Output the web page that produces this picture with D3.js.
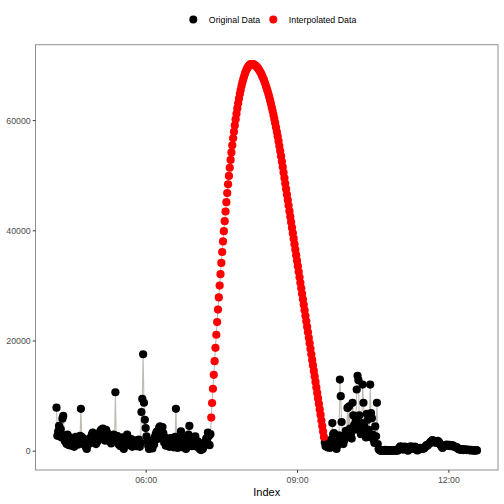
<!DOCTYPE html>
<html>
<head>
<meta charset="utf-8">
<script src="https://cdn.jsdelivr.net/npm/d3@7"></script>
<style>
  html, body { margin: 0; padding: 0; background: #fff; }
  svg { display: block; font-family: "Liberation Sans", Arial, sans-serif; }
</style>
</head>
<body>
<svg id="chart" width="504" height="504"></svg>
<script>
// ---- Data (one reading per minute) ----
const seriesNames = ["Original Data", "Interpolated Data"];
const beforeStart = "04:14";
const originalBefore = [
7800,2700,3500,4500,2600,3900,2400,5800,6300,2800,
1700,2200,1200,2900,1800,1000,2400,1500,900,2000,
1400,700,1600,2500,1300,2000,1100,2300,2700,7600,
2500,1800,1200,2100,1500,600,300,1000,1800,1300,
2300,1600,2900,3300,2600,1400,2000,1200,2400,1700,
3000,2200,3500,3800,3200,4000,3600,2500,1800,3800,
3300,2400,2800,1700,2200,1300,2600,1900,2900,2300,
10600,2100,2700,1500,1100,2000,800,1400,2400,1700,
300,1200,1900,2600,2900,1600,2200,1000,1500,2100,
700,1300,1800,1100,1600,800,1900,1200,2000,700,
1400,7000,9400,17500,8700,5600,4100,2600,1800,900,
300,1200,500,1500,400,1900,1100,2500,3000,3400,
2100,3700,4200,4400,3900,2600,4300,3200,1500,2400,
900,1800,1200,2200,700,1600,2300,1000,1900,600,
1400,2500,7600,1700,500,1200,2100,2800,3500,1400,
600,1900,2400,1100,300,1600,2200,2900,4500,2000,
1300,800,1800,2300,1500,2600,1200,700,1700,1000,
400,200,100,600,300,900,1500,1100,2200,1800,
3300,2600,1000,3000
];
const interpStart = "07:18";
const interpolated = [
6000,8650,11240,13770,16250,18670,21040,23350,25610,27810,
29960,32040,34080,36060,37980,39840,41650,43410,45110,46750,
48340,49870,51350,52770,54130,55440,56700,57890,59040,60120,
61150,62130,63050,63910,64720,65470,66170,66810,67390,67920,
68390,68810,69170,69480,69730,69930,70070,70150,70180,70170,
70130,70060,69960,69840,69690,69510,69310,69070,68810,68530,
68210,67870,67500,67110,66680,66230,65750,65250,64720,64160,
63570,62950,62310,61640,60950,60220,59470,58690,57890,57050,
56190,55300,54390,53450,52480,51480,50480,49480,48480,47480,
46480,45480,44480,43480,42480,41480,40480,39480,38480,37480,
36480,35480,34480,33480,32480,31480,30480,29480,28480,27480,
26480,25480,24480,23480,22480,21480,20480,19480,18480,17480,
16480,15480,14480,13480,12480,11480,10480,9480,8480,7480,
6480,5480,4480,3480,2480
];
const afterStart = "09:33";
const originalAfter = [
1500,800,1200,600,1000,1800,500,900,2000,5000,
3000,3200,1600,500,300,900,1500,2800,12900,9900,
5200,2600,1200,1800,2500,3600,2400,7750,3500,8050,
4000,3000,2200,8700,6400,4700,3800,5500,11100,13600,
12800,6400,4200,3000,5000,12000,8700,4500,3600,2400,
6700,5600,3800,2500,12000,6800,5900,2900,2000,1400,
4400,2600,8700,1200,300,100,
0,50,0,100,0,0,150,50,0,0,100,0,50,0,0,100,0,50,0,150,0,50,
300,600,800,700,400,200,500,750,650,
200,100,0,
250,600,800,700,500,300,650,750,600,
200,50,100,
400,500,350,450,300,500,400,600,800,1000,900,1100,1200,
1400,1600,1700,1900,1800,1500,1700,1600,1400,1800,1700,1500,1200,1000,
700,500,800,900,850,
1000,1100,900,950,1050,900,800,1000,850,900,700,650,600,
650,400,300,
200,250,150,300,200,100,250,200,150,100,200,150,100,50,150,100,50,100,0,50,100,50
];
const colors = ["#000000", "#ff0000"];

// ---- Build records ----
const parse = d3.timeParse("%Y-%m-%d %H:%M");
function toRecords(start, values, group) {
  const t0 = parse("2020-01-01 " + start);
  return values.map((v, i) => ({ time: d3.timeMinute.offset(t0, i), value: v, group }));
}
const recBefore = toRecords(beforeStart, originalBefore, 0);
const recInterp = toRecords(interpStart, interpolated, 1);
const recAfter = toRecords(afterStart, originalAfter, 0);
const all = recBefore.concat(recInterp, recAfter).sort((a, b) => a.time - b.time);

// ---- Layout ----
const svg = d3.select("#chart");
const panel = { left: 35.5, right: 498, top: 44.7, bottom: 470 };

const tExt = d3.extent(all, d => d.time);
const tPad = (tExt[1] - tExt[0]) * 0.05;
const x = d3.scaleTime()
  .domain([new Date(+tExt[0] - tPad), new Date(+tExt[1] + tPad)])
  .range([panel.left, panel.right]);

const yExt = d3.extent(all, d => d.value);
const yPad = (yExt[1] - yExt[0]) * 0.05;
const y = d3.scaleLinear()
  .domain([yExt[0] - yPad, yExt[1] + yPad])
  .range([panel.bottom, panel.top]);

// ---- Line (drawn first) ----
const line = d3.line().x(d => x(d.time)).y(d => y(d.value));
svg.append("path")
  .datum(all)
  .attr("d", line)
  .attr("fill", "none")
  .attr("stroke", "#c2bab2")
  .attr("stroke-width", 1.1);

// ---- Points ----
svg.append("g").selectAll("circle")
  .data(recBefore.concat(recAfter, recInterp))
  .join("circle")
  .attr("cx", d => x(d.time))
  .attr("cy", d => y(d.value))
  .attr("r", 4.1)
  .attr("fill", d => colors[d.group]);

// ---- Panel border ----
svg.append("rect")
  .attr("x", panel.left).attr("y", panel.top)
  .attr("width", panel.right - panel.left)
  .attr("height", panel.bottom - panel.top)
  .attr("fill", "none")
  .attr("stroke", "#8f8f8f")
  .attr("stroke-width", 1);

// ---- Axes ----
const fmt = d3.timeFormat("%H:%M");
const xAxis = d3.axisBottom(x).ticks(d3.timeHour.every(3)).tickFormat(fmt).tickSize(2.75).tickPadding(2);
const gx = svg.append("g").attr("transform", `translate(0,${panel.bottom})`).call(xAxis);
gx.select(".domain").remove();
gx.selectAll("line").attr("stroke", "#333333");
gx.selectAll("text").attr("fill", "#4d4d4d").style("font-size", "8.8px")
  .attr("y", 13).attr("dy", null).style("font-family", "Liberation Sans, Arial, sans-serif");

const yAxis = d3.axisLeft(y).tickValues([0, 20000, 40000, 60000]).tickFormat(d3.format("d")).tickSize(2.75).tickPadding(2);
const gy = svg.append("g").attr("transform", `translate(${panel.left},0)`).call(yAxis);
gy.select(".domain").remove();
gy.selectAll("line").attr("stroke", "#333333");
gy.selectAll("text").attr("fill", "#4d4d4d").style("font-size", "8.8px")
  .attr("dy", "0.36em").style("font-family", "Liberation Sans, Arial, sans-serif");

// ---- Axis title ----
svg.append("text")
  .attr("x", (panel.left + panel.right) / 2)
  .attr("y", 496)
  .attr("text-anchor", "middle")
  .style("font-size", "11px")
  .attr("fill", "#000")
  .text("Index");

// ---- Legend ----
const legend = svg.append("g");
const legendX = [193.3, 273.3];
seriesNames.forEach((name, i) => {
  legend.append("circle").attr("cx", legendX[i]).attr("cy", 19.5).attr("r", 4).attr("fill", colors[i]);
  legend.append("text").attr("x", legendX[i] + 15.5).attr("y", 22.7)
    .style("font-size", "8.8px").attr("fill", "#000").text(name);
});
</script>
</body>
</html>
